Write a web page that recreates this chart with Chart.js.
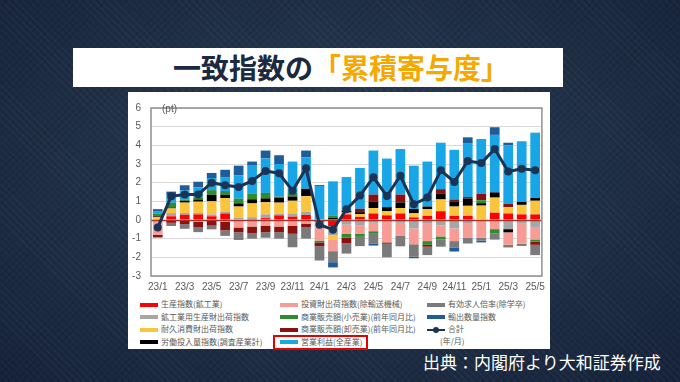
<!DOCTYPE html>
<html lang="ja">
<head>
<meta charset="utf-8">
<script src="https://cdn.jsdelivr.net/npm/chart.js@4.4.1/dist/chart.umd.min.js"></script>
<style>
  html, body { margin:0; padding:0; }
  body {
    width:680px; height:382px; overflow:hidden; position:relative;
    font-family:"Noto Sans CJK JP","Noto Sans",sans-serif;
    background:
      repeating-linear-gradient(45deg, rgba(255,255,255,0.035) 0 1px, rgba(0,0,0,0) 1px 5px),
      repeating-linear-gradient(-45deg, rgba(0,0,0,0.10) 0 1px, rgba(0,0,0,0) 1px 5px),
      radial-gradient(ellipse at 50% 45%, #2c3f58 0%, #1f2f46 55%, #15223a 100%);
  }
  #banner {
    position:absolute; left:73px; top:48px; width:490px; height:39px;
    background:#ffffff; box-sizing:border-box; padding-left:100px;
    font-weight:bold; font-size:28px; line-height:39px; color:#1b2a41; white-space:nowrap;
  }
  #banner span { color:#f5a800; }
  #panel { position:absolute; left:128px; top:92px; width:422px; height:257px; background:#ffffff; }
  #chartBox { position:absolute; left:125px; top:92px; width:425px; height:200px; }
  #pt { position:absolute; left:162px; top:103px; font-family:"Liberation Sans",Arial,sans-serif; font-size:10px; color:#595959; }
  #legend { position:absolute; left:0; top:0; }
  .lg { position:absolute; font-size:8px; line-height:10px; color:#595959; white-space:nowrap; }
  .sw { position:absolute; width:18px; height:4px; }
  #ym { position:absolute; left:440px; top:336px; font-size:8px; line-height:10px; color:#595959; }
  #redbox { position:absolute; left:273px; top:335px; width:91px; height:11px; border:2px solid #e60000; }
  #source { position:absolute; left:423px; top:352px; font-size:17px; line-height:20px; color:#ffffff; white-space:nowrap; }
</style>
</head>
<body>
<div id="banner">一致指数の<span>「累積寄与度」</span></div>
<div id="panel"></div>
<div id="chartBox"><canvas id="c" width="425" height="200"></canvas></div>
<div id="pt">(pt)</div>
<div id="legend"></div>
<div id="ym">(年/月)</div>
<div id="redbox"></div>
<div id="source">出典：内閣府より大和証券作成</div>
<script>
// ---- data ----
const months = ["23/1","23/2","23/3","23/4","23/5","23/6","23/7","23/8","23/9","23/10","23/11","23/12",
                "24/1","24/2","24/3","24/4","24/5","24/6","24/7","24/8","24/9","24/10","24/11","24/12",
                "25/1","25/2","25/3","25/4","25/5"];
const yTicks = [-3,-2,-1,0,1,2,3,4,5,6];

const production   = [-0.05,0.20,0.28,0.30,0.20,0.35,0.03,0.05,0.10,0.25,0.18,0.27,-0.10,-0.32,0.30,0.17,0.35,0.25,0.35,0.14,0.22,0.47,0.22,0.22,0.00,0.39,0.35,0.30,0.30];
const producerGoods= [0.05,0.17,0.10,0.08,0.10,0.08,0.10,0.10,0.20,0.08,0.17,0.17,-0.25,-0.50,-0.25,-0.30,-0.15,-0.10,-0.15,-0.45,-0.20,-0.29,-0.45,-0.20,0.00,0.00,-0.49,-0.20,-0.37];
const durables     = [0.12,0.25,0.55,0.60,0.70,0.75,0.59,0.74,0.65,0.60,0.68,0.84,0.00,-0.21,0.10,0.15,0.29,0.22,0.29,0.22,0.37,0.63,0.50,0.54,0.77,0.81,0.34,0.51,0.73];
const labourInput  = [0.06,0.05,0.10,0.12,0.35,0.17,0.17,0.22,0.21,0.27,0.23,0.39,0.00,0.12,0.10,0.10,0.35,0.22,0.30,0.23,0.13,0.30,0.25,0.39,0.13,0.28,-0.17,0.16,0.15];
const investment   = [-0.75,-0.05,-0.05,-0.10,-0.05,-0.10,-0.40,-0.35,-0.30,-0.35,-0.32,-0.19,-0.75,-0.64,-0.50,-0.45,-0.45,-1.10,-0.68,-0.85,-0.93,-0.59,-0.68,-0.76,-0.95,-0.49,-0.67,-1.06,-0.67];
const retail       = [0.10,0.25,0.05,0.10,0.25,0.20,0.25,0.29,0.29,0.05,0.19,0.00,-0.10,0.10,-0.20,-0.15,-0.10,0.00,0.00,0.00,-0.20,-0.17,0.00,0.00,0.16,-0.22,0.00,0.00,-0.12];
const wholesale    = [-0.12,-0.10,-0.17,-0.30,-0.25,-0.45,-0.25,-0.35,-0.35,-0.30,-0.42,-0.21,-0.20,0.00,-0.30,0.18,0.37,-0.07,0.42,0.00,-0.10,0.25,0.13,0.08,0.34,0.00,0.17,0.00,-0.17];
const profits      = [0.15,0.40,0.50,0.55,0.65,0.72,1.26,1.51,1.85,1.75,1.68,1.68,1.82,1.85,1.80,2.19,2.36,2.60,2.44,2.32,2.41,2.49,2.66,2.86,2.94,3.08,3.15,3.25,3.50];
const jobsRatio    = [-0.03,-0.17,-0.25,-0.25,-0.20,-0.30,-0.42,-0.30,-0.30,-0.35,-0.72,-0.60,-0.77,-0.59,-0.55,-0.50,-0.55,-0.73,-0.58,-0.67,-0.45,-0.38,-0.34,-0.30,-0.15,-0.34,-0.14,-0.13,-0.55];
const exportsVol   = [0.10,0.20,0.28,0.30,0.27,0.42,0.51,0.22,0.42,0.47,0.00,0.37,0.05,-0.28,0.00,0.00,-0.12,0.00,0.00,-0.08,0.00,0.00,-0.22,0.34,-0.10,0.41,0.13,0.00,0.00];
const total        = [-0.40,1.27,1.36,1.36,2.00,1.86,1.77,2.09,2.63,2.50,1.57,2.77,-0.25,-0.52,0.57,1.31,2.29,1.28,2.37,0.84,1.20,2.66,2.04,3.16,3.05,3.80,2.60,2.74,2.66];

const seriesNames = ["生産指数(鉱工業)","鉱工業用生産財出荷指数","耐久消費財出荷指数","労働投入量指数(調査産業計)",
  "投資財出荷指数(除輸送機械)","商業販売額(小売業)(前年同月比)","商業販売額(卸売業)(前年同月比)","営業利益(全産業)",
  "有効求人倍率(除学卒)","輸出数量指数"];
const totalName = "合計";
const seriesValues = [production,producerGoods,durables,labourInput,investment,retail,wholesale,profits,jobsRatio,exportsVol];
const seriesColors = ["#ff0000","#a6a6a6","#fac43c","#000000","#f79c94","#2e8b2e","#8b1010","#18a6e6","#7a7a7a","#1f5d99"];
const totalColor = "#1b3354";

const datasets = seriesValues.map((vals,i)=>({
  type:'bar', label:seriesNames[i], data:vals, backgroundColor:seriesColors[i],
  borderWidth:0, stack:'s', order:1, barPercentage:0.72, categoryPercentage:1.0
}));
datasets.push({
  type:'line', label:totalName, data:total, borderColor:totalColor, backgroundColor:totalColor,
  borderWidth:3, pointRadius:4, pointBackgroundColor:totalColor, pointBorderWidth:0,
  tension:0, stack:'total', order:0
});

const framePlugin = {
  id:'frame',
  beforeDatasetDraw(chart, args){
    if (args.meta.type !== 'line') return;
    const {ctx, chartArea:{left,right}} = chart;
    const y0 = Math.round(chart.scales.y.getPixelForValue(0)) + 0.5;
    ctx.save(); ctx.strokeStyle = '#a8322c'; ctx.lineWidth = 1.5;
    ctx.beginPath(); ctx.moveTo(left, y0); ctx.lineTo(right, y0); ctx.stroke(); ctx.restore();
  },
  afterDraw(chart){
    const {ctx, chartArea:{left,right,top,bottom}} = chart;
    ctx.save(); ctx.strokeStyle = '#8f8f8f'; ctx.lineWidth = 1.5;
    ctx.strokeRect(left, top, right-left, bottom-top); ctx.restore();
  }
};

const chart = new Chart(document.getElementById('c'), {
  data:{ labels:months, datasets },
  options:{
    responsive:false, animation:false,
    layout:{ padding:{ left:0, right:6, top:7, bottom:0 } },
    plugins:{ legend:{display:false}, tooltip:{enabled:false} },
    scales:{
      x:{
        stacked:true, offset:true,
        grid:{ display:false, drawTicks:false },
        border:{ display:false },
        ticks:{ autoSkip:false, maxRotation:0, minRotation:0, padding:5,
          color:'#595959', font:{ family:'"Liberation Sans", Arial, sans-serif', size:10 },
          callback:(v,i)=> (i % 2 === 0 ? months[i] : '') },
        afterFit:(s)=>{ s.height = 16; }
      },
      y:{
        stacked:true, min:yTicks[0], max:yTicks[yTicks.length-1],
        afterBuildTicks:(s)=>{ s.ticks = yTicks.map(v=>({value:v})); },
        grid:{ color:'#d9d9d9', lineWidth:1, drawTicks:false },
        border:{ display:false },
        ticks:{ padding:10, color:'#595959', font:{ family:'"Liberation Sans", Arial, sans-serif', size:10 } },
        afterFit:(s)=>{ s.width = 26; }
      }
    }
  },
  plugins:[framePlugin]
});

// ---- legend in three columns, built from the chart's datasets ----
const legendEl = document.getElementById('legend');
const colX = [140, 280, 427];
const rowY = [304.5, 317, 329.5, 342];
const slots = [[0,0],[0,1],[0,2],[0,3],[1,0],[1,1],[1,2],[1,3],[2,0],[2,1],[2,2]];
chart.data.datasets.forEach((ds, i)=>{
  const [c, r] = slots[i];
  const x = colX[c], y = rowY[r];
  if (ds.type === 'line') {
    const ln = document.createElement('div');
    ln.style.cssText = `position:absolute;left:${x}px;top:${y-1}px;width:18px;height:2px;background:${ds.borderColor}`;
    const dot = document.createElement('div');
    dot.style.cssText = `position:absolute;left:${x+6}px;top:${y-3}px;width:6px;height:6px;border-radius:3px;background:${ds.borderColor}`;
    legendEl.appendChild(ln); legendEl.appendChild(dot);
  } else {
    const sw = document.createElement('div');
    sw.className = 'sw';
    sw.style.left = x + 'px'; sw.style.top = (y-2) + 'px'; sw.style.background = ds.backgroundColor;
    legendEl.appendChild(sw);
  }
  const t = document.createElement('div');
  t.className = 'lg';
  t.style.left = (x + 21) + 'px'; t.style.top = (y - 5.5) + 'px';
  t.textContent = ds.label;
  legendEl.appendChild(t);
});
</script>
</body>
</html>
